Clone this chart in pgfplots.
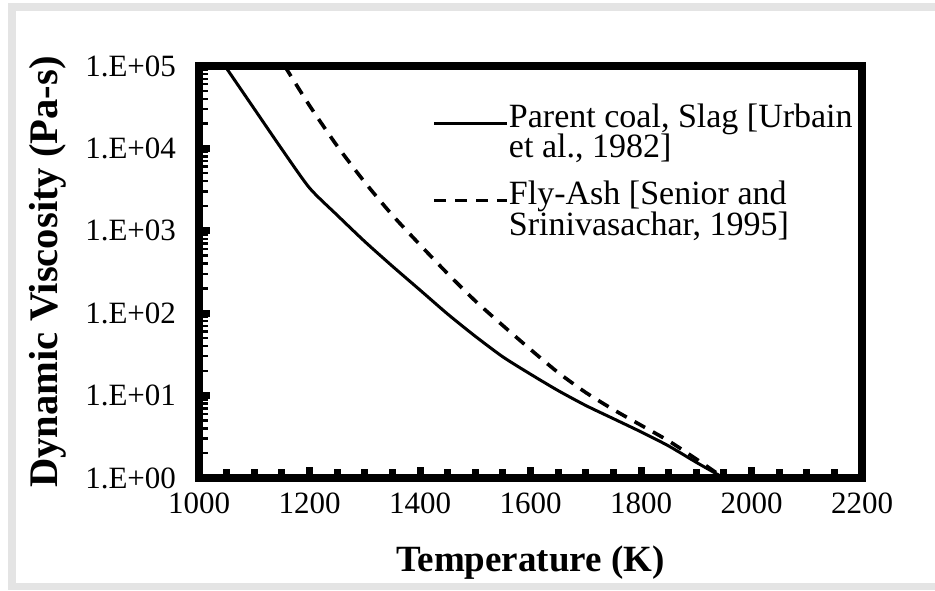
\documentclass[border=0pt]{standalone}
\usepackage{pgfplots}
\pgfplotsset{compat=1.18}
\usepackage{fontspec}
\setmainfont{Liberation Serif}
\definecolor{framegray}{RGB}{228,228,228}
\begin{document}
\begin{tikzpicture}[x=1bp,y=1bp]
\useasboundingbox (0,0) rectangle (467.5,295);
\fill[framegray] (4,289.5) rectangle (467.5,293.5);
\fill[framegray] (4,0) rectangle (8,293.5);
\fill[framegray] (4,0) rectangle (467.5,3.5);
\begin{axis}[
  at={(99.5bp,56bp)}, anchor=south west,
  scale only axis, width=331.5bp, height=206bp,
  xmin=1000, xmax=2200, ymin=1, ymax=1e5, ymode=log,
  xtick={1000,1200,1400,1600,1800,2000,2200},
  xticklabels={1000,1200,1400,1600,1800,2000,2200},
  minor x tick num=3,
  ytick={1,10,100,1000,10000,100000},
  yticklabels={1.E+00,1.E+01,1.E+02,1.E+03,1.E+04,1.E+05},
  tick align=inside, tick pos=left,
  axis line style={line width=4bp},
  major tick length=5.5bp, minor tick length=4.5bp,
  every tick/.style={black, line width=3.5bp},
  minor y tick style={line width=1.2bp},
  ticklabel style={font=\fontsize{15.5bp}{18bp}\selectfont},
  xticklabel style={yshift=-4bp},
  yticklabel style={xshift=-8bp},
  xlabel={Temperature (K)}, ylabel={Dynamic Viscosity (Pa-s)},
  every axis x label/.style={at={(axis description cs:0.5,-0.205)}, anchor=center, font=\bfseries\fontsize{18.5bp}{20bp}\selectfont},
  every axis y label/.style={at={(axis description cs:-0.2277,0.5)}, rotate=90, anchor=center, font=\bfseries\fontsize{20.3bp}{22bp}\selectfont},
  legend style={at={(axis description cs:0.3514,0.910)}, anchor=north west, draw=none, fill=none, inner sep=0pt, row sep=0pt,
    font=\fontsize{17bp}{14bp}\selectfont, cells={anchor=base west}, nodes={inner sep=0pt, text depth=}},
  legend image code/.code={\draw[#1] (0bp,2bp) -- (36.5bp,2bp);},
  /tikz/every even column/.append style={column sep=1.5bp},
]
\addplot[black, line width=1.5bp, smooth, tension=0.4] coordinates {
(1047,100000) (1100,30200) (1150,9772) (1200,3311) (1250,1549) (1300,741)
(1350,372) (1400,191) (1450,97.7) (1500,52.5) (1550,29.5) (1600,18.2)
(1650,11.5) (1700,7.59) (1750,5.25) (1800,3.63) (1850,2.45) (1900,1.55)
(1950,1.0)};
\addlegendentry{\rule[-2bp]{0pt}{12bp}Parent coal, Slag [Urbain}
\addlegendimage{empty legend}
\addlegendentry{\rule[-11.5bp]{0pt}{12bp}et al., 1982]}
\addplot[black, line width=1.8bp, dash pattern=on 6bp off 4.5bp, smooth, tension=0.4] coordinates {
(1155,100000) (1200,33113) (1250,10715) (1300,3890) (1350,1549) (1400,676)
(1450,302) (1500,141) (1550,70.8) (1600,36.3) (1650,19.05) (1700,10.9)
(1750,6.76) (1800,4.37) (1850,2.82) (1900,1.70) (1950,1.0)};
\addlegendentry{\rule[-2bp]{0pt}{12bp}Fly-Ash [Senior and}
\addlegendimage{empty legend}
\addlegendentry{\rule[-2bp]{0pt}{12bp}Srinivasachar, 1995]}
\end{axis}
\end{tikzpicture}
\end{document}
